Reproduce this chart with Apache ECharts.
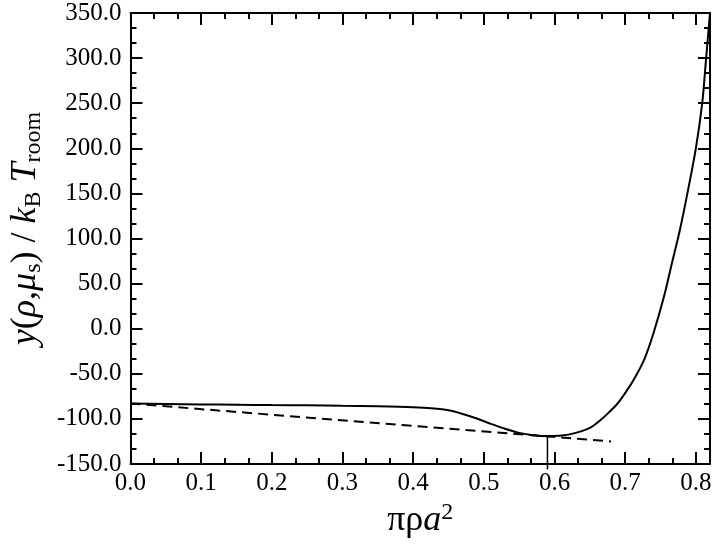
<!DOCTYPE html>
<html>
<head>
<meta charset="utf-8">
<script src="https://cdn.jsdelivr.net/npm/echarts@6/dist/echarts.min.js"></script>
<style>
	html, body { margin: 0; padding: 0; background: #fff; }
	#chart { width: 720px; height: 544px; }
</style>
</head>
<body>
<div id="chart"></div>
<script>
// y(rho, mu_s) curve
const curveX = [0, 0.05, 0.1, 0.15, 0.2, 0.25, 0.3, 0.35, 0.4, 0.43, 0.45, 0.47, 0.49, 0.51, 0.53, 0.55, 0.57, 0.59, 0.61, 0.63, 0.65, 0.664, 0.674, 0.688, 0.695, 0.711, 0.727, 0.74, 0.756, 0.765, 0.777, 0.788, 0.8, 0.809, 0.814, 0.82];
const curveY = [-83, -83.5, -84, -84.3, -84.7, -85, -85.5, -86, -87, -88.5, -90.5, -94.5, -99.5, -105.5, -111, -115.5, -118, -119, -118.5, -115.5, -110, -102, -95, -84, -77, -58, -34, -5, 39, 69, 108, 150, 200, 250, 295, 350];

// common tangent (dashed)
const tangentX = [0, 0.68];
const tangentY = [-83, -125];

// vertical marker at the minimum (runs a little below the axis)
const markX = [0.59, 0.59];
const markY = [-156, -119];

const xMin = 0, xMax = 0.82, xStep = 0.1;
const yMin = -150, yMax = 350, yStep = 50;

const serif = 'Liberation Serif';

function pairs(xs, ys) {
	return xs.map((x, i) => [x, ys[i]]);
}

const chart = echarts.init(document.getElementById('chart'));

const tickBase = {
	axisLine: { show: true, onZero: false, lineStyle: { color: '#000', width: 2 } },
	axisTick: { show: true, inside: true, length: 12, lineStyle: { color: '#000', width: 2 } },
	minorTick: { show: true, splitNumber: 3, length: 6, lineStyle: { color: '#000', width: 2 } },
	splitLine: { show: false },
	minorSplitLine: { show: false },
};

const option = {
	backgroundColor: '#fff',
	animation: false,
	grid: { left: 127, right: 10, top: 13, bottom: 80, containLabel: false },
	xAxis: [
		{
			type: 'value',
			min: xMin,
			max: xMax,
			interval: xStep,
			position: 'bottom',
			...tickBase,
			axisLabel: {
				color: '#000',
				fontFamily: serif,
				fontSize: 25,
				margin: 7,
				showMaxLabel: false,
				formatter: (v) => v.toFixed(1),
			},
			name: '{r|πρ}{i|a}{sup|2}',
			nameLocation: 'middle',
			nameGap: 30,
			nameTextStyle: {
				color: '#000',
				fontFamily: serif,
				fontSize: 36,
				rich: {
					r: { fontFamily: serif, fontSize: 36, color: '#000', lineHeight: 40 },
					i: { fontFamily: serif, fontSize: 36, fontStyle: 'italic', color: '#000', lineHeight: 40 },
					sup: { fontFamily: serif, fontSize: 24, color: '#000', lineHeight: 8, verticalAlign: 'top' },
				},
			},
		},
		{
			type: 'value',
			min: xMin,
			max: xMax,
			interval: xStep,
			position: 'top',
			...tickBase,
			axisLabel: { show: false },
		},
	],
	yAxis: [
		{
			type: 'value',
			min: yMin,
			max: yMax,
			interval: yStep,
			position: 'left',
			...tickBase,
			axisLabel: {
				color: '#000',
				fontFamily: serif,
				fontSize: 25,
				margin: 9,
				formatter: (v) => v.toFixed(1),
			},
			name: '{i|y}{n|(}{i|ρ}{n|,}{i|μ}{sub|s}{n|) / }{i|k}{sub|B}{n| }{i|T}{sub|room}',
			nameLocation: 'middle',
			nameGap: 84,
			nameTextStyle: {
				color: '#000',
				fontFamily: serif,
				fontSize: 36,
				padding: [0, 0, 0, 20],
				rich: {
					n: { fontFamily: serif, fontSize: 36, color: '#000', lineHeight: 40 },
					i: { fontFamily: serif, fontSize: 36, fontStyle: 'italic', color: '#000', lineHeight: 40 },
					sub: { fontFamily: serif, fontSize: 24, color: '#000', lineHeight: 14, verticalAlign: 'bottom' },
				},
			},
		},
		{
			type: 'value',
			min: yMin,
			max: yMax,
			interval: yStep,
			position: 'right',
			...tickBase,
			axisLabel: { show: false },
		},
	],
	series: [
		{
			type: 'line',
			data: pairs(curveX, curveY),
			smooth: 0.3,
			showSymbol: false,
			lineStyle: { color: '#000', width: 2 },
		},
		{
			type: 'line',
			data: pairs(tangentX, tangentY),
			showSymbol: false,
			lineStyle: { color: '#000', width: 2, type: [10, 6] },
		},
		{
			type: 'line',
			data: pairs(markX, markY),
			showSymbol: false,
			clip: false,
			lineStyle: { color: '#000', width: 1.5 },
		},
	],
};

chart.setOption(option);
</script>
</body>
</html>
